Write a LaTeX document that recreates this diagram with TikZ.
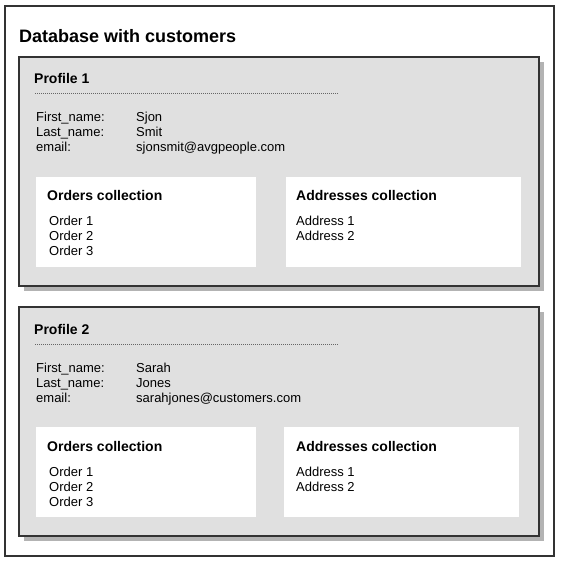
\documentclass[tikz,border=0pt]{standalone}
\usepackage{fontspec}
\setmainfont{Liberation Sans}
\usetikzlibrary{positioning}

\definecolor{frameline}{HTML}{333333}
\definecolor{profilefill}{HTML}{E0E0E0}
\definecolor{shadowfill}{HTML}{B3B3B3}
\definecolor{dotline}{HTML}{666666}

\tikzset{
  frame/.style={draw=frameline, line width=2pt},
  profilebox/.style={frame, fill=profilefill},
  shadowbox/.style={fill=shadowfill},
  collectionbox/.style={fill=white},
  plaintext/.style={anchor=base west, inner sep=0pt, font=\fontsize{13}{15}\selectfont},
  headtext/.style={anchor=base west, inner sep=0pt, font=\fontsize{14}{16}\selectfont\bfseries},
  titletext/.style={anchor=base west, inner sep=0pt, font=\fontsize{18}{20}\selectfont\bfseries},
}

\begin{document}
\begin{tikzpicture}[x=1pt, y=-1pt]
        \useasboundingbox (0,0) rectangle (562,561);
        \draw[frame] (4.5,6.5) rectangle (553.5,556);
        \node[titletext] (title) at (19,42.5) {Database with customers};

        \foreach \i/\dy/\first/\last/\mail/\ax in {%
            1/0/Sjon/Smit/sjonsmit@avgpeople.com/286,%
            2/250/Sarah/Jones/sarahjones@customers.com/284} {
            % profile card with its shadow
            \fill[shadowbox] (24,62+\dy) rectangle (544,291+\dy);
            \draw[profilebox] (19,57+\dy) rectangle (539,286+\dy);
            \node[headtext] (profile\i) at (34,84+\dy) {Profile \i};
            \draw[dotline, line width=1pt, dash pattern=on 1pt off 1pt] (35,94+\dy) -- (338,94+\dy);

            \node[plaintext] (firstkey\i) at (36,122+\dy) {First\_name:};
            \node[plaintext] (lastkey\i) at (36,137+\dy) {Last\_name:};
            \node[plaintext] (mailkey\i) at (36,152+\dy) {email:};
            \node[plaintext] (firstval\i) at (136,122+\dy) {\first};
            \node[plaintext] (lastval\i) at (136,137+\dy) {\last};
            \node[plaintext] (mailval\i) at (136,152+\dy) {\mail};

            % orders
            \fill[collectionbox] (36,177+\dy) rectangle (256,267+\dy);
            \node[headtext] (orders\i) at (47,201+\dy) {Orders collection};
            \node[plaintext] (orderA\i) at (49,226+\dy) {Order 1};
            \node[plaintext] (orderB\i) at (49,241+\dy) {Order 2};
            \node[plaintext] (orderC\i) at (49,256+\dy) {Order 3};

            % addresses
            \fill[collectionbox] (\ax,177+\dy) rectangle (\ax+235,267+\dy);
            \node[headtext] (addresses\i) at (296,201+\dy) {Addresses collection};
            \node[plaintext] (addressA\i) at (296,226+\dy) {Address 1};
            \node[plaintext] (addressB\i) at (296,241+\dy) {Address 2};
        }
    \end{tikzpicture}
\end{document}
